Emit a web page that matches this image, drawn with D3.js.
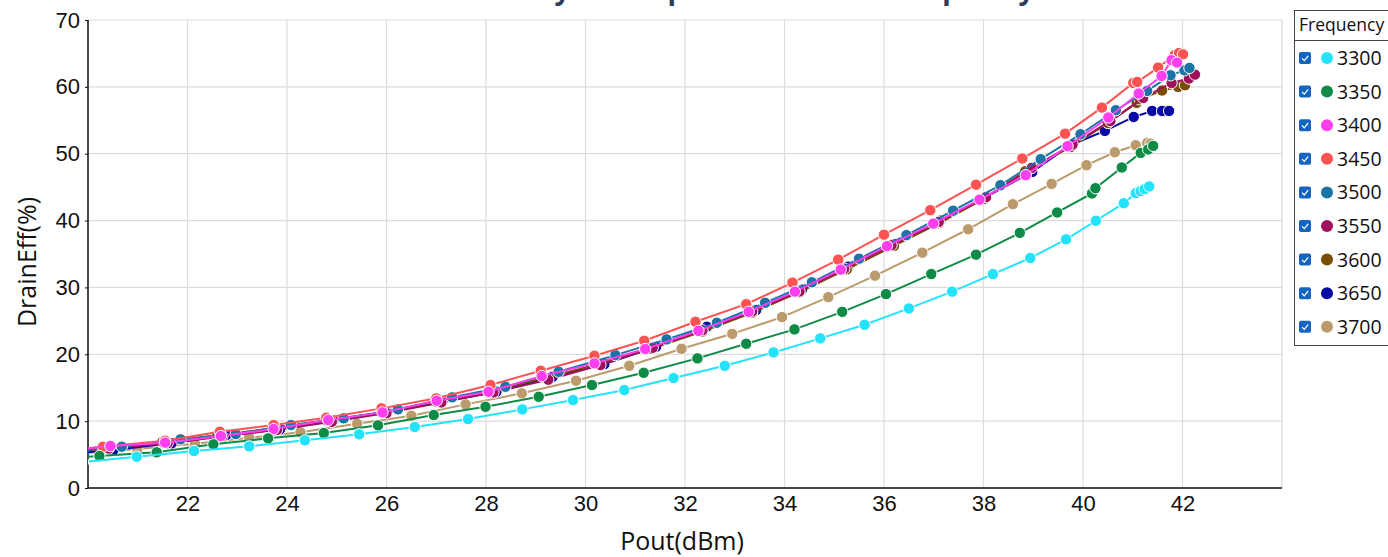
<!DOCTYPE html>
<html>
<head>
<meta charset="utf-8">
<script src="https://cdn.jsdelivr.net/npm/d3@7"></script>
<style>
  body { margin: 0; background: #fff; }
  svg { display: block; font-family: "Open Sans", "Noto Sans", sans-serif; }
</style>
</head>
<body>
<svg width="1388" height="557"></svg>
<script>
// frequencies (legend order) and their colours
var freqs = ["3300", "3350", "3400", "3450", "3500", "3550", "3600", "3650", "3700"];
var colors = ["#25e2fb", "#0e8c47", "#ff3ef0", "#ff5252", "#1a74a6", "#a0105c", "#7a4c04", "#0808a2", "#bb9b6b"];

var xTicks = [22, 24, 26, 28, 30, 32, 34, 36, 38, 40, 42];
var yTicks = [0, 10, 20, 30, 40, 50, 60, 70];

// [Pout dBm, DrainEff %]
var s3300 = [[19.9,3.9],[20.98,4.68],[22.13,5.53],[23.24,6.23],[24.36,7.13],[25.45,8.03],[26.57,9.12],[27.64,10.31],[28.73,11.76],[29.75,13.15],[30.78,14.65],[31.77,16.44],[32.8,18.28],[33.78,20.28],[34.72,22.38],[35.61,24.41],[36.5,26.86],[37.37,29.37],[38.19,31.99],[38.94,34.4],[39.66,37.2],[40.26,39.97],[40.82,42.6],[41.06,44.1],[41.16,44.4],[41.24,44.7],[41.33,45.1]];
var s3350 = [[19.2,4.3],[20.23,4.78],[21.38,5.34],[22.52,6.53],[23.62,7.43],[24.74,8.22],[25.83,9.37],[26.95,10.91],[27.99,12.15],[29.06,13.65],[30.13,15.4],[31.17,17.23],[32.25,19.39],[33.23,21.57],[34.2,23.72],[35.16,26.35],[36.04,29.0],[36.95,32.0],[37.85,34.9],[38.73,38.16],[39.48,41.21],[40.18,44.05],[40.25,44.84],[40.78,47.94],[41.16,50.12],[41.31,50.63],[41.41,51.17]];
var s3400 = [[19.4,5.5],[20.45,6.28],[21.55,6.78],[22.67,7.77],[23.73,8.82],[24.83,10.16],[25.92,11.31],[27.01,13.05],[28.05,14.39],[29.12,16.74],[30.18,18.64],[31.2,20.78],[32.27,23.51],[33.28,26.35],[34.21,29.37],[35.13,32.66],[36.06,36.17],[36.99,39.54],[37.92,43.12],[38.85,46.79],[39.69,51.12],[40.51,55.41],[41.12,59.0],[41.58,61.63],[41.78,63.98],[41.89,63.63]];
var s3450 = [[19.3,5.4],[20.3,6.18],[21.55,7.08],[22.65,8.42],[23.73,9.42],[24.79,10.51],[25.9,11.91],[27.0,13.41],[28.09,15.4],[29.1,17.53],[30.18,19.78],[31.18,22.02],[32.21,24.86],[33.23,27.5],[34.16,30.72],[35.08,34.16],[36.0,37.89],[36.93,41.55],[37.85,45.37],[38.78,49.28],[39.64,53.0],[40.38,56.9],[41.01,60.58],[41.09,60.73],[41.51,62.88],[41.84,64.72],[41.93,65.07],[42.01,64.87]];
var s3500 = [[19.6,5.4],[20.68,6.18],[21.86,7.28],[22.97,8.07],[24.08,9.42],[25.14,10.42],[26.23,11.76],[27.32,13.56],[28.39,15.14],[29.46,17.38],[30.6,19.88],[31.63,22.23],[32.64,24.71],[33.61,27.7],[34.55,30.77],[35.5,34.3],[36.45,37.82],[37.39,41.48],[38.34,45.29],[39.15,49.18],[39.95,52.91],[40.66,56.5],[41.29,59.39],[41.76,61.73],[42.04,62.48],[42.14,62.83]];
var s3550 = [[19.4,5.2],[20.42,5.9],[21.6,6.7],[22.7,7.7],[23.8,8.7],[24.9,9.9],[26.0,11.2],[27.1,12.8],[28.15,14.3],[29.25,16.2],[30.3,18.4],[31.35,20.97],[32.35,23.6],[33.35,26.4],[34.3,29.4],[35.2,32.8],[36.15,36.3],[37.1,39.8],[38.05,43.5],[38.97,47.88],[39.79,51.37],[40.55,54.9],[41.21,58.34],[41.78,60.58],[42.13,61.24],[42.25,61.83]];
var s3600 = [[19.4,5.3],[20.38,6.0],[21.5,6.9],[22.6,7.9],[23.7,8.9],[24.8,10.1],[25.9,11.3],[27.0,12.9],[28.1,14.5],[29.2,16.5],[30.25,18.5],[31.3,20.8],[32.35,23.4],[33.35,26.2],[34.3,29.3],[35.25,32.7],[36.2,36.2],[37.1,39.6],[38.0,43.2],[38.84,47.38],[39.75,51.0],[40.5,54.6],[41.08,57.6],[41.14,58.15],[41.59,59.45],[41.91,59.99],[42.05,60.24]];
var s3650 = [[19.5,5.0],[20.51,5.68],[21.68,6.68],[22.78,7.92],[23.86,8.77],[24.93,10.06],[26.01,11.31],[27.12,12.9],[28.21,14.39],[29.34,16.64],[30.38,18.53],[31.42,21.12],[32.44,24.11],[33.43,26.61],[34.35,29.67],[35.28,33.11],[36.2,36.47],[37.13,39.99],[38.06,43.57],[38.98,47.28],[39.74,51.27],[40.44,53.41],[41.02,55.5],[41.39,56.4],[41.59,56.4],[41.73,56.4]];
var s3700 = [[19.85,5.2],[20.99,5.83],[22.15,6.62],[23.24,7.52],[24.27,8.33],[25.41,9.61],[26.5,10.81],[27.59,12.51],[28.72,14.16],[29.81,16.04],[30.88,18.28],[31.93,20.82],[32.95,23.06],[33.95,25.56],[34.88,28.55],[35.82,31.76],[36.77,35.2],[37.69,38.7],[38.59,42.45],[39.37,45.49],[40.07,48.28],[40.64,50.22],[41.06,51.27],[41.29,51.61],[41.36,51.5]];

var series = [s3300, s3350, s3400, s3450, s3500, s3550, s3600, s3650, s3700];

var svg = d3.select("svg");
var plotL = 88, plotR = 1282, plotT = 20, plotB = 488;

var x = d3.scaleLinear().domain([20, 44]).range([plotL, plotR]);
var y = d3.scaleLinear().domain([0, 70]).range([plotB, plotT]);

// title (only its bottom edge shows in the frame)
svg.append("text")
    .attr("x", 693).attr("y", -1)
    .attr("text-anchor", "middle")
    .attr("font-size", 28).attr("font-weight", "bold")
    .attr("fill", "#2c3b5c")
    .text("Drain Efficiency vs Output Power over Frequency");

// grid
var grid = svg.append("g").attr("stroke", "#dcdcdc").attr("stroke-width", 1.2);
d3.range(20, 45, 2).forEach(function(v) {
    grid.append("line").attr("x1", x(v)).attr("x2", x(v)).attr("y1", plotT).attr("y2", plotB);
});
yTicks.forEach(function(v) {
    grid.append("line").attr("x1", plotL).attr("x2", plotR).attr("y1", y(v)).attr("y2", y(v));
});

// axes
var xAxis = svg.append("g")
    .attr("transform", "translate(0," + plotB + ")")
    .call(d3.axisBottom(x).tickValues(xTicks).tickSize(0).tickPadding(7).tickFormat(d3.format("d")));
xAxis.select(".domain").attr("stroke", "#111").attr("stroke-width", 1.5).attr("d", "M" + plotL + ",0H" + plotR);
xAxis.selectAll("text").attr("font-size", 22).attr("fill", "#111").attr("font-family", null);

var yAxis = svg.append("g")
    .attr("transform", "translate(" + plotL + ",0)")
    .call(d3.axisLeft(y).tickValues(yTicks).tickSize(3).tickPadding(5).tickFormat(d3.format("d")));
yAxis.select(".domain").attr("stroke", "#111").attr("stroke-width", 1.5).attr("d", "M0," + plotT + "V" + plotB);
yAxis.selectAll("line").attr("stroke", "#111");
yAxis.selectAll("text").attr("font-size", 22).attr("fill", "#111").attr("font-family", null);

svg.append("text")
    .attr("transform", "translate(36,262) rotate(-90)")
    .attr("text-anchor", "middle")
    .attr("font-size", 25).attr("fill", "#111")
    .text("DrainEff(%)");

svg.append("text")
    .attr("x", 682).attr("y", 550)
    .attr("text-anchor", "middle")
    .attr("font-size", 25).attr("fill", "#111")
    .text("Pout(dBm)");

// series
svg.append("clipPath").attr("id", "plot")
    .append("rect").attr("x", plotL).attr("y", plotT - 10).attr("width", plotR - plotL).attr("height", plotB - plotT + 10);

var plot = svg.append("g").attr("clip-path", "url(#plot)");
var line = d3.line().x(function(d) { return x(d[0]); }).y(function(d) { return y(d[1]); });

d3.range(series.length - 1, -1, -1).forEach(function(i) {
    var g = plot.append("g");
    g.append("path")
        .datum(series[i])
        .attr("d", line)
        .attr("fill", "none")
        .attr("stroke", colors[i])
        .attr("stroke-width", 2);
    g.selectAll("circle")
        .data(series[i])
        .enter().append("circle")
        .attr("cx", function(d) { return x(d[0]); })
        .attr("cy", function(d) { return y(d[1]); })
        .attr("r", 5.7)
        .attr("fill", colors[i])
        .attr("stroke", "#fff")
        .attr("stroke-width", 1);
});

// legend
var lg = svg.append("g").attr("transform", "translate(1294,10)");
lg.append("rect").attr("x", 0.5).attr("y", 0.5).attr("width", 120).attr("height", 335)
    .attr("fill", "#fff").attr("stroke", "#444").attr("stroke-width", 1);
lg.append("line").attr("x1", 0).attr("x2", 120).attr("y1", 30.5).attr("y2", 30.5)
    .attr("stroke", "#444").attr("stroke-width", 1);
lg.append("text").attr("x", 5).attr("y", 21).attr("font-size", 17.5).attr("fill", "#111").text("Frequency");

freqs.forEach(function(f, i) {
    var cy = 48 + i * 33.6;
    var item = lg.append("g").attr("transform", "translate(0," + cy + ")");
    item.append("rect").attr("x", 5).attr("y", -6).attr("width", 12).attr("height", 12).attr("rx", 2)
        .attr("fill", "#1565c0");
    item.append("path").attr("d", "M8,0.3L10.3,2.6L14.2,-2.2")
        .attr("fill", "none").attr("stroke", "#fff").attr("stroke-width", 1.2);
    item.append("circle").attr("cx", 33).attr("cy", 0).attr("r", 6).attr("fill", colors[i]);
    item.append("text").attr("x", 43).attr("y", 7).attr("font-size", 19.5).attr("fill", "#111").text(f);
});
</script>
</body>
</html>
